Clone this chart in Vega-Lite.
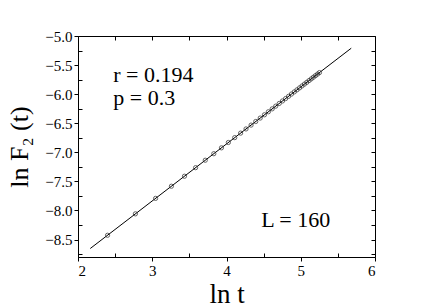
{
  "$schema": "https://vega.github.io/schema/vega-lite/v6.json",
  "autosize": {"type": "none"},
  "width": 297,
  "height": 221,
  "padding": {"left": 78, "top": 36, "right": 61, "bottom": 51},
  "background": "white",
  "config": {
    "view": {"stroke": "black", "strokeWidth": 1},
    "font": "Liberation Serif",
    "axis": {
      "domainColor": "black",
      "tickColor": "black",
      "labelColor": "black",
      "titleColor": "black",
      "grid": false,
      "labelFont": "Liberation Serif",
      "titleFont": "Liberation Serif",
      "labelFontSize": 15,
      "titleFontWeight": "normal"
    }
  },
  "datasets": {
    "points": [
      {"lnt": 2.398, "lnF": -8.426}, {"lnt": 2.773, "lnF": -8.058}, {"lnt": 3.045, "lnF": -7.792},
      {"lnt": 3.258, "lnF": -7.583}, {"lnt": 3.434, "lnF": -7.411}, {"lnt": 3.584, "lnF": -7.264},
      {"lnt": 3.714, "lnF": -7.136}, {"lnt": 3.829, "lnF": -7.024}, {"lnt": 3.932, "lnF": -6.923},
      {"lnt": 4.025, "lnF": -6.831}, {"lnt": 4.111, "lnF": -6.747}, {"lnt": 4.190, "lnF": -6.670},
      {"lnt": 4.263, "lnF": -6.598}, {"lnt": 4.331, "lnF": -6.532}, {"lnt": 4.394, "lnF": -6.470},
      {"lnt": 4.454, "lnF": -6.411}, {"lnt": 4.511, "lnF": -6.355}, {"lnt": 4.564, "lnF": -6.303},
      {"lnt": 4.615, "lnF": -6.253}, {"lnt": 4.663, "lnF": -6.206}, {"lnt": 4.710, "lnF": -6.160},
      {"lnt": 4.754, "lnF": -6.117}, {"lnt": 4.796, "lnF": -6.076}, {"lnt": 4.836, "lnF": -6.037},
      {"lnt": 4.875, "lnF": -5.998}, {"lnt": 4.913, "lnF": -5.961}, {"lnt": 4.949, "lnF": -5.926},
      {"lnt": 4.984, "lnF": -5.892}, {"lnt": 5.017, "lnF": -5.859}, {"lnt": 5.050, "lnF": -5.827},
      {"lnt": 5.081, "lnF": -5.797}, {"lnt": 5.112, "lnF": -5.766}, {"lnt": 5.142, "lnF": -5.737},
      {"lnt": 5.170, "lnF": -5.709}, {"lnt": 5.198, "lnF": -5.682}, {"lnt": 5.226, "lnF": -5.655},
      {"lnt": 5.252, "lnF": -5.629}
    ],
    "fit": [
      {"lnt": 2.165, "lnF": -8.654},
      {"lnt": 5.68, "lnF": -5.21}
    ],
    "notes": [
      {"lnt": 2.475, "lnF": -5.79, "label": "r = 0.194"},
      {"lnt": 2.475, "lnF": -6.18, "label": "p = 0.3"},
      {"lnt": 4.467, "lnF": -8.279, "label": "L = 160"}
    ]
  },
  "layer": [
    {
      "data": {"name": "fit"},
      "mark": {"type": "line", "color": "black", "strokeWidth": 1},
      "encoding": {
        "x": {
          "field": "lnt", "type": "quantitative",
          "scale": {"domain": [2, 6], "nice": false, "zero": false},
          "axis": {
            "orient": "top", "title": null, "labels": false, "domain": false,
            "values": [2, 2.5, 3, 3.5, 4, 4.5, 5, 5.5, 6],
            "tickSize": -4
          }
        },
        "y": {
          "field": "lnF", "type": "quantitative",
          "scale": {"domain": [-8.8, -5.0], "nice": false, "zero": false},
          "axis": {
            "orient": "right", "title": null, "labels": false, "domain": false,
            "values": [-5, -5.25, -5.5, -5.75, -6, -6.25, -6.5, -6.75, -7, -7.25, -7.5, -7.75, -8, -8.25, -8.5, -8.75],
            "tickSize": -4
          }
        }
      }
    },
    {
      "data": {"name": "points"},
      "mark": {"type": "point", "shape": "circle", "filled": false, "stroke": "#222222", "strokeWidth": 1, "size": 18},
      "encoding": {
        "x": {
          "field": "lnt", "type": "quantitative",
          "scale": {"domain": [2, 6], "nice": false, "zero": false},
          "axis": {
            "orient": "bottom", "title": "ln t", "titleFontSize": 27, "titlePadding": 3,
            "labelFont": "Liberation Serif", "titleFont": "Liberation Serif",
            "values": [2, 2.5, 3, 3.5, 4, 4.5, 5, 5.5, 6],
            "labelExpr": "datum.value % 1 === 0 ? format(datum.value, 'd') : ''",
            "tickSize": {"condition": {"test": "datum.value % 1 !== 0", "value": -4}, "value": 4},
            "labelPadding": 2
          }
        },
        "y": {
          "field": "lnF", "type": "quantitative",
          "scale": {"domain": [-8.8, -5.0], "nice": false, "zero": false},
          "axis": {
            "orient": "left", "title": "ln F₂ (t)", "titleFontSize": 26, "titlePadding": 12,
            "labelFont": "Liberation Serif", "titleFont": "Liberation Serif",
            "values": [-5, -5.25, -5.5, -5.75, -6, -6.25, -6.5, -6.75, -7, -7.25, -7.5, -7.75, -8, -8.25, -8.5, -8.75],
            "labelExpr": "(datum.value * 2) % 1 === 0 ? format(datum.value, '.1f') : ''",
            "tickSize": {"condition": {"test": "(datum.value * 2) % 1 !== 0", "value": -4}, "value": 4},
            "labelPadding": 2
          }
        }
      }
    },
    {
      "data": {"name": "notes"},
      "mark": {"type": "text", "align": "left", "baseline": "alphabetic", "fontSize": 22, "font": "Liberation Serif", "color": "black"},
      "encoding": {
        "x": {"field": "lnt", "type": "quantitative", "axis": null},
        "y": {"field": "lnF", "type": "quantitative", "axis": null},
        "text": {"field": "label"}
      }
    }
  ],
  "resolve": {"axis": {"x": "independent", "y": "independent"}}
}
